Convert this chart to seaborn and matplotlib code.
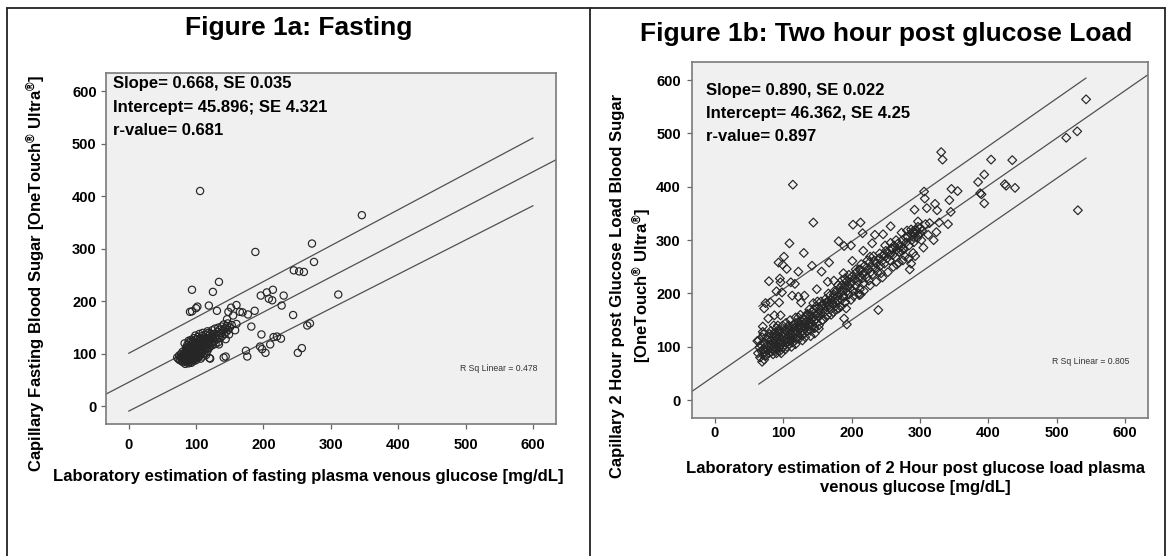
import matplotlib
matplotlib.use('Agg')
import matplotlib.pyplot as plt
import seaborn as sns
import pandas as pd
from matplotlib.lines import Line2D

# ---- Figure 1a: fasting (lab venous glucose, capillary meter glucose) ----
fasting_cluster = [
    (72, 93), (74, 90), (75, 97), (76, 88), (77, 94), (78, 100), (79, 86), (79, 92), (80, 96), (80, 104),
    (81, 84), (81, 90), (82, 95), (82, 101), (83, 87), (83, 93), (84, 81), (84, 98), (85, 89), (85, 106),
    (85, 112), (86, 84), (86, 94), (87, 90), (87, 100), (87, 117), (88, 86), (88, 96), (88, 104), (89, 82),
    (89, 92), (89, 110), (90, 88), (90, 99), (90, 122), (84, 103), (86, 109), (88, 114), (83, 120), (89, 125),
    (91, 85), (91, 94), (91, 104), (92, 90), (92, 98), (92, 112), (93, 83), (93, 101), (93, 118), (94, 88),
    (94, 95), (94, 107), (95, 92), (95, 103), (95, 124), (96, 86), (96, 99), (96, 115), (97, 94), (97, 109),
    (97, 130), (98, 90), (98, 102), (98, 120), (99, 97), (99, 112), (99, 135), (100, 88), (100, 105), (100, 117),
    (100, 127), (96, 121), (93, 127), (98, 108), (95, 113),
    (101, 93), (101, 110), (102, 99), (102, 121), (103, 92), (103, 106), (103, 132), (104, 101), (104, 115), (104, 126),
    (105, 96), (105, 110), (105, 138), (106, 104), (106, 119), (107, 91), (107, 113), (107, 129), (108, 100), (108, 108),
    (108, 123), (109, 117), (109, 134), (110, 95), (110, 106), (110, 128), (110, 140), (102, 114), (104, 108), (106, 125),
    (108, 116), (109, 103), (101, 128), (103, 118), (107, 121),
    (111, 112), (111, 122), (112, 101), (112, 131), (113, 117), (113, 108), (114, 125), (114, 137), (115, 98), (115, 113),
    (116, 121), (116, 130), (117, 106), (117, 143), (118, 118), (118, 126), (119, 111), (119, 135), (120, 92), (120, 122),
    (120, 130), (112, 119), (114, 116), (116, 110), (118, 140),
    (121, 114), (121, 138), (122, 126), (123, 120), (123, 133), (124, 145), (125, 117), (125, 129), (126, 138), (127, 124),
    (128, 132), (128, 148), (129, 119), (130, 136), (131, 128), (132, 142), (133, 122), (133, 150), (134, 135), (135, 146),
    (136, 130), (137, 140), (138, 152), (139, 134), (140, 145), (141, 156), (142, 138), (143, 149), (144, 128), (145, 142),
    (146, 153), (147, 158), (148, 146), (149, 137), (150, 150),
]
fasting_outliers = [
    (106, 410), (346, 364), (272, 310), (188, 294), (275, 275), (245, 259), (253, 257), (260, 256),
    (134, 237), (94, 222), (125, 218), (214, 222), (205, 217), (196, 211), (230, 211), (208, 205), (213, 202),
    (227, 192), (311, 213), (119, 192), (102, 190), (100, 187), (91, 180), (94, 181), (131, 182), (148, 180),
    (152, 188), (160, 193), (165, 180), (177, 175), (187, 182), (169, 179), (155, 173), (146, 166), (244, 174),
    (182, 152), (160, 157), (153, 155), (158, 145), (197, 137), (269, 158), (265, 154), (220, 133), (226, 129),
    (215, 132), (195, 114), (198, 109), (203, 102), (210, 118), (174, 106), (176, 95), (257, 111), (251, 102),
    (141, 93), (144, 95), (121, 91), (134, 118),
]
fasting_fit = (0.668, 45.896)          # slope, intercept
fasting_band_x = [0, 600]
fasting_band_hi = [101, 511]
fasting_band_lo = [-9, 382]
fasting_stats = ['Slope= 0.668, SE 0.035', 'Intercept= 45.896; SE 4.321', 'r-value= 0.681']
fasting_rsq = 'R Sq Linear = 0.478'

# ---- Figure 1b: two hour post glucose load ----
load_band = [
    (63, 88), (64, 112), (65, 99), (66, 80), (67, 104), (68, 92), (69, 118), (70, 85), (70, 128), (71, 96),
    (72, 76), (72, 108), (73, 90), (74, 100), (75, 84), (76, 115), (77, 95), (78, 105), (79, 88), (80, 124),
    (81, 98), (81, 112), (82, 90), (82, 130), (83, 104), (84, 95), (84, 120), (85, 86), (85, 108), (86, 100),
    (86, 140), (87, 93), (87, 115), (88, 105), (88, 126), (89, 98), (89, 110), (90, 88), (90, 120), (90, 135),
    (91, 102), (92, 95), (92, 114), (93, 108), (93, 128), (94, 100), (94, 118), (95, 92), (95, 132), (96, 110),
    (97, 104), (97, 122), (98, 115), (99, 98), (99, 140),
    (100, 108), (100, 125), (101, 118), (102, 104), (102, 132), (103, 112), (104, 122), (104, 145), (105, 100), (105, 115),
    (106, 128), (107, 110), (107, 138), (108, 120), (109, 105), (109, 130), (110, 116), (110, 150), (111, 124), (112, 112),
    (112, 136), (113, 120), (114, 128), (114, 108), (115, 142), (116, 118), (117, 130), (118, 124), (118, 155), (119, 114),
    (120, 138), (120, 128), (121, 120), (122, 146), (123, 132), (123, 115), (124, 140), (125, 126), (125, 160), (116, 136),
    (126, 136), (127, 148), (127, 122), (128, 142), (129, 130), (130, 152), (130, 138), (131, 125), (132, 145), (133, 156),
    (133, 136), (134, 148), (135, 130), (135, 162), (136, 142), (137, 152), (138, 138), (139, 158), (140, 146), (140, 130),
    (141, 152), (142, 166), (143, 140), (144, 155), (145, 148), (145, 170), (146, 135), (147, 160), (148, 152), (148, 176),
    (149, 144), (150, 162), (150, 185), (138, 170), (144, 182),
    (152, 156), (153, 170), (155, 164), (156, 178), (157, 150), (158, 172), (160, 180), (161, 166), (162, 190), (163, 175),
    (165, 160), (165, 185), (167, 178), (168, 196), (169, 170), (170, 188), (172, 182), (173, 165), (174, 198), (175, 190),
    (176, 176), (178, 205), (179, 186), (180, 195), (181, 172), (182, 210), (183, 200), (185, 188), (186, 216), (187, 205),
    (188, 196), (190, 212), (191, 184), (192, 222), (194, 205), (195, 215), (196, 198), (197, 228), (198, 210), (200, 220),
    (201, 232), (202, 205), (204, 226), (206, 214), (207, 240), (209, 222), (210, 230), (212, 208), (213, 245), (215, 228),
    (216, 236), (218, 220), (219, 252), (220, 240), (222, 230), (224, 246), (225, 224), (226, 258), (228, 240), (229, 250),
    (231, 236), (233, 262), (235, 248), (236, 256), (238, 240), (240, 266), (242, 252), (244, 260), (246, 272), (248, 256),
    (250, 280), (252, 266), (254, 276), (256, 262), (258, 284),
    (260, 272), (262, 290), (264, 268), (266, 282), (268, 294), (270, 278), (272, 288), (274, 300), (276, 284), (278, 270),
    (280, 296), (282, 306), (284, 290), (286, 312), (288, 300), (289, 316), (290, 306), (291, 296), (292, 312), (294, 318),
    (296, 304), (298, 310), (300, 322), (302, 300), (305, 286),
    (85, 125), (92, 140), (97, 88), (103, 95), (108, 140), (112, 100), (118, 105), (122, 155), (128, 112), (132, 118),
    (136, 160), (140, 120), (146, 125), (152, 140), (155, 185), (158, 150), (162, 155), (166, 200), (170, 160), (175, 205),
    (178, 170), (184, 175), (186, 225), (192, 172), (196, 235), (199, 188), (203, 195), (206, 245), (210, 200), (214, 255),
    (218, 205), (223, 262), (227, 215), (232, 270), (236, 222), (241, 275), (245, 230), (249, 290), (253, 240), (257, 295),
    (261, 250), (265, 300), (269, 258), (275, 262), (279, 305), (283, 265), (287, 320), (293, 270), (297, 325), (303, 318),
    (308, 330), (312, 310),
]
load_outliers = [
    (543, 564), (530, 504), (514, 492), (531, 356), (331, 465), (333, 451), (404, 451), (435, 450), (394, 423),
    (385, 409), (424, 405), (426, 402), (439, 398), (388, 388), (390, 386), (394, 369), (114, 404), (306, 391),
    (346, 396), (355, 392), (343, 375), (307, 378), (322, 368), (310, 360), (325, 356), (345, 353), (292, 357),
    (297, 335), (328, 333), (341, 330), (314, 332), (324, 315), (320, 300), (294, 319), (291, 314), (273, 314),
    (281, 318), (300, 312), (144, 333), (202, 329), (213, 333), (216, 313), (257, 326), (246, 311), (234, 310),
    (109, 294), (181, 298), (189, 289), (199, 290), (130, 276), (101, 269), (93, 258), (99, 254), (105, 246),
    (122, 241), (142, 252), (167, 258), (156, 241), (79, 223), (95, 228), (96, 221), (90, 204), (98, 202),
    (111, 221), (117, 218), (113, 196), (74, 182), (81, 183), (72, 172), (94, 183), (78, 153), (87, 159),
    (96, 159), (70, 138), (71, 124), (62, 111), (69, 72), (74, 83), (239, 169), (193, 142), (152, 134),
    (189, 153), (287, 256), (285, 245), (266, 254), (290, 276), (273, 280), (276, 282), (256, 272), (260, 284),
    (248, 273), (230, 294), (217, 280), (227, 269), (243, 238), (201, 261), (211, 245), (188, 238), (190, 228),
    (213, 198), (211, 197), (174, 224), (165, 222), (180, 216), (149, 208), (188, 194), (190, 183), (176, 184),
    (164, 183), (131, 196), (122, 194), (126, 183),
]
load_fit = (0.890, 46.362)
load_band_x = [64, 543]
load_band_hi = [176, 604]
load_band_lo = [30, 454]
load_stats = ['Slope= 0.890, SE 0.022', 'Intercept= 46.362, SE 4.25', 'r-value= 0.897']
load_rsq = 'R Sq Linear = 0.805'

ticks = [0, 100, 200, 300, 400, 500, 600]

sns.set_style('white')
plt.rcParams['font.family'] = ['Liberation Sans', 'DejaVu Sans']
plt.rcParams['font.weight'] = 'bold'
plt.rcParams['text.color'] = 'black'
plt.rcParams['axes.labelcolor'] = 'black'
plt.rcParams['xtick.color'] = 'black'
plt.rcParams['ytick.color'] = 'black'
plt.rcParams['mathtext.fontset'] = 'custom'
plt.rcParams['mathtext.rm'] = 'Liberation Sans:bold'
plt.rcParams['mathtext.it'] = 'Liberation Sans:bold'
plt.rcParams['mathtext.bf'] = 'Liberation Sans:bold'

W, H = 1172, 556
fig = plt.figure(figsize=(W / 100, H / 100), dpi=100)


def fx(px):
    return px / W


def fy(py):
    return 1 - py / H


def draw_panel(ax, points, marker, msize, fit, bx, bhi, blo, xpad, ypad):
    df = pd.DataFrame(points, columns=['lab', 'meter'])
    ax.set_facecolor('#f0f0f0')
    sns.scatterplot(data=df, x='lab', y='meter', ax=ax, marker=marker, s=msize,
                    facecolors='none', edgecolor='#262626', linewidth=0.85, legend=False, zorder=3)
    slope, intercept = fit
    ax.axline((0, intercept), slope=slope, color='#505050', lw=0.9, zorder=2)
    sns.lineplot(x=bx, y=bhi, ax=ax, color='#505050', lw=0.9, zorder=2)
    sns.lineplot(x=bx, y=blo, ax=ax, color='#505050', lw=0.9, zorder=2)
    ax.set_xlim(-34, 634)
    ax.set_ylim(-34, 634)
    ax.set_xticks(ticks)
    ax.set_yticks(ticks)
    ax.set_xlabel('')
    ax.set_ylabel('')
    ax.tick_params(axis='both', direction='out', length=3.6, width=0.9, color='#666666',
                   labelcolor='black', labelsize=10.5, left=True, bottom=True)
    ax.tick_params(axis='x', pad=xpad)
    ax.tick_params(axis='y', pad=ypad)
    for lab in ax.get_xticklabels() + ax.get_yticklabels():
        lab.set_fontweight('bold')
    for s in ax.spines.values():
        s.set_color('#7a7a7a')
        s.set_linewidth(1.2)


ax1 = fig.add_axes([fx(105.7), fy(424.3), (556 - 105.7) / W, (424.3 - 73.3) / H])
draw_panel(ax1, fasting_cluster + fasting_outliers, 'o', 27, fasting_fit,
           fasting_band_x, fasting_band_hi, fasting_band_lo, 6.1, 2.9)

ax2 = fig.add_axes([fx(691.7), fy(418.3), (1148.3 - 691.7) / W, (418.3 - 62) / H])
draw_panel(ax2, load_band + load_outliers, 'D', 20, load_fit,
           load_band_x, load_band_hi, load_band_lo, 1.6, 4.3)

# titles
fig.text(fx(298.8), fy(28.4), 'Figure 1a: Fasting', ha='center', va='center', fontsize=19, fontweight='bold')
fig.text(fx(885.9), fy(33.7), 'Figure 1b: Two hour post glucose Load', ha='center', va='center',
         fontsize=19, fontweight='bold')

# stats boxes
for i, line in enumerate(fasting_stats):
    fig.text(fx(112.7), fy(83.7 + 23.6 * i), line, ha='left', va='center', fontsize=12, fontweight='bold')
for i, line in enumerate(load_stats):
    fig.text(fx(706), fy(90.5 + 23.2 * i), line, ha='left', va='center', fontsize=12, fontweight='bold')

fig.text(fx(498.5), fy(368.8), fasting_rsq, ha='center', va='center', fontsize=6.2,
         fontweight='normal', color='#333333')
fig.text(fx(1091), fy(361), load_rsq, ha='center', va='center', fontsize=6.2,
         fontweight='normal', color='#333333')

# axis labels
reg = r'$^{®}$'
fig.text(fx(308.6), fy(477), 'Laboratory estimation of fasting plasma venous glucose [mg/dL]',
         ha='center', va='center', fontsize=12, fontweight='bold')
fig.text(fx(35.8), fy(273.5), 'Capillary Fasting Blood Sugar [OneTouch' + reg + ' Ultra' + reg + ']',
         ha='center', va='center', rotation=90, fontsize=12, fontweight='bold')

fig.text(fx(915), fy(468), 'Laboratory estimation of 2 Hour post glucose load plasma',
         ha='center', va='center', fontsize=12, fontweight='bold')
fig.text(fx(915), fy(487.6), 'venous glucose [mg/dL]', ha='center', va='center', fontsize=12, fontweight='bold')
fig.text(fx(617.8), fy(285.5), 'Capillary 2 Hour post Glucose Load Blood Sugar',
         ha='center', va='center', rotation=90, fontsize=12, fontweight='bold')
fig.text(fx(642), fy(285.5), '[OneTouch' + reg + ' Ultra' + reg + ']',
         ha='center', va='center', rotation=90, fontsize=12, fontweight='bold')

# outer frame of the two figure panels
frame = dict(color='#222222', lw=1.3)
fig.add_artist(Line2D([fx(7), fx(1165)], [fy(8), fy(8)], **frame))
fig.add_artist(Line2D([fx(7), fx(7)], [fy(8), fy(556)], **frame))
fig.add_artist(Line2D([fx(590), fx(590)], [fy(8), fy(556)], **frame))
fig.add_artist(Line2D([fx(1165), fx(1165)], [fy(8), fy(556)], **frame))

fig.savefig('out.png', dpi=100)
